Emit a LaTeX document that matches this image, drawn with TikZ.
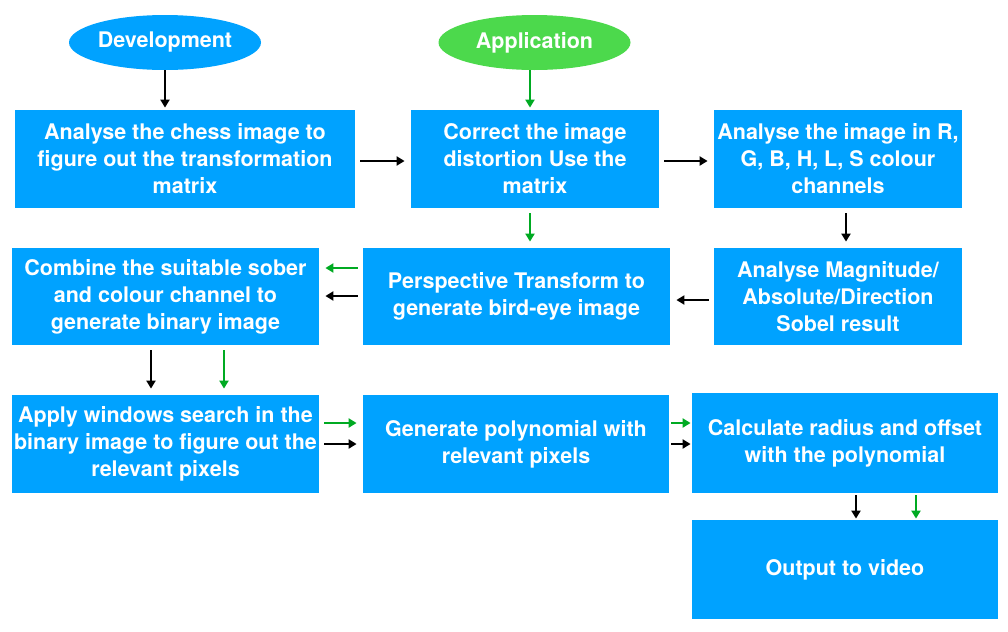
\documentclass[tikz,border=0pt]{standalone}
\usepackage{fontspec}
\setmainfont{TeX Gyre Heros}
\usetikzlibrary{shapes.geometric,arrows.meta}

\definecolor{boxblue}{HTML}{00A2FF}
\definecolor{appgreen}{HTML}{4CD94C}
\definecolor{flowgreen}{HTML}{00AA22}

\tikzset{
    box/.style={rectangle, fill=boxblue, text=white, align=center, inner sep=0pt,
        font=\bfseries\fontsize{10.75}{13.5}\selectfont},
    oval/.style={ellipse, text=white, inner sep=0pt, minimum width=96pt, minimum height=27.5pt,
        font=\bfseries\fontsize{10.75}{13.5}\selectfont},
    barrow/.style={-{Triangle[length=4pt,width=4.5pt]}, line width=1pt, black,
        shorten <=2.5pt, shorten >=3pt},
    garrow/.style={barrow, flowgreen},
    tight/.style={shorten <=1pt, shorten >=0.5pt}
}

\begin{document}
\begin{tikzpicture}[x=0.5pt,y=-0.5pt] % one unit = one pixel of the reference
    \useasboundingbox (0,0) rectangle (1008,632);

    % Start points
    \node[oval, fill=boxblue] (dev) at (165,42.5) {Development};
    \node[oval, fill=appgreen] (app) at (534.5,42.5) {Application};

    % First row
    \node[box, minimum width=170pt, minimum height=49pt] (chess) at (185,159) {Analyse the chess image to\\figure out the transformation\\matrix};
    \node[box, minimum width=124pt, minimum height=49pt] (undist) at (535,159) {Correct the image\\distortion Use the\\matrix};
    \node[box, minimum width=124pt, minimum height=49pt] (chan) at (838,159) {Analyse the image in R,\\G, B, H, L, S colour\\channels};

    % Second row
    \node[box, minimum width=153.5pt, minimum height=48.5pt] (comb) at (165.5,296.5) {Combine the suitable sober\\and colour channel to\\generate binary image};
    \node[box, minimum width=153.5pt, minimum height=48.5pt] (warp) at (516.5,296.5) {Perspective Transform to\\generate bird-eye image};
    \node[box, minimum width=124pt, minimum height=48.5pt] (sobel) at (838,296.5) {Analyse Magnitude/\\Absolute/Direction\\Sobel result};

    % Third row
    \node[box, minimum width=153.5pt, minimum height=49pt] (search) at (165.5,444) {Apply windows search in the\\binary image to figure out the\\relevant pixels};
    \node[box, minimum width=153pt, minimum height=49pt] (poly) at (516,444) {Generate polynomial with\\relevant pixels};
    \node[box, minimum width=153pt, minimum height=50pt] (radius) at (845,443) {Calculate radius and offset\\with the polynomial};

    % Last box
    \node[box, minimum width=153pt, minimum height=49.5pt] (video) at (845,569.5) {Output to video};

    % Development path (black)
    \draw[barrow, shorten <=0pt, shorten >=1pt] (dev.south) -- (chess.north -| dev.south);
    \draw[barrow] (chess.east |- 0,161) -- (undist.west |- 0,161);
    \draw[barrow] (undist.east |- 0,161) -- (chan.west |- 0,161);
    \draw[barrow] (chan.south -| 846,0) -- (sobel.north -| 846,0);
    \draw[barrow] (sobel.west |- 0,300) -- (warp.east |- 0,300);
    \draw[barrow] (warp.west |- 0,296) -- (comb.east |- 0,296);
    \draw[barrow] (comb.south -| 151,0) -- (search.north -| 151,0);
    \draw[barrow] (search.east |- 0,444) -- (poly.west |- 0,444);
    \draw[barrow, tight] (poly.east |- 0,444) -- (radius.west |- 0,444);
    \draw[barrow, tight] (radius.south -| 856,0) -- (video.north -| 856,0);

    % Application path (green)
    \draw[garrow, shorten <=0pt, shorten >=1pt] (app.south -| 530,0) -- (undist.north -| 530,0);
    \draw[garrow] (undist.south -| 530,0) -- (warp.north -| 530,0);
    \draw[garrow] (warp.west |- 0,268) -- (comb.east |- 0,268);
    \draw[garrow] (comb.south -| 224,0) -- (search.north -| 224,0);
    \draw[garrow] (search.east |- 0,423) -- (poly.west |- 0,423);
    \draw[garrow, tight] (poly.east |- 0,423) -- (radius.west |- 0,423);
    \draw[garrow, tight] (radius.south -| 916,0) -- (video.north -| 916,0);
\end{tikzpicture}
\end{document}
